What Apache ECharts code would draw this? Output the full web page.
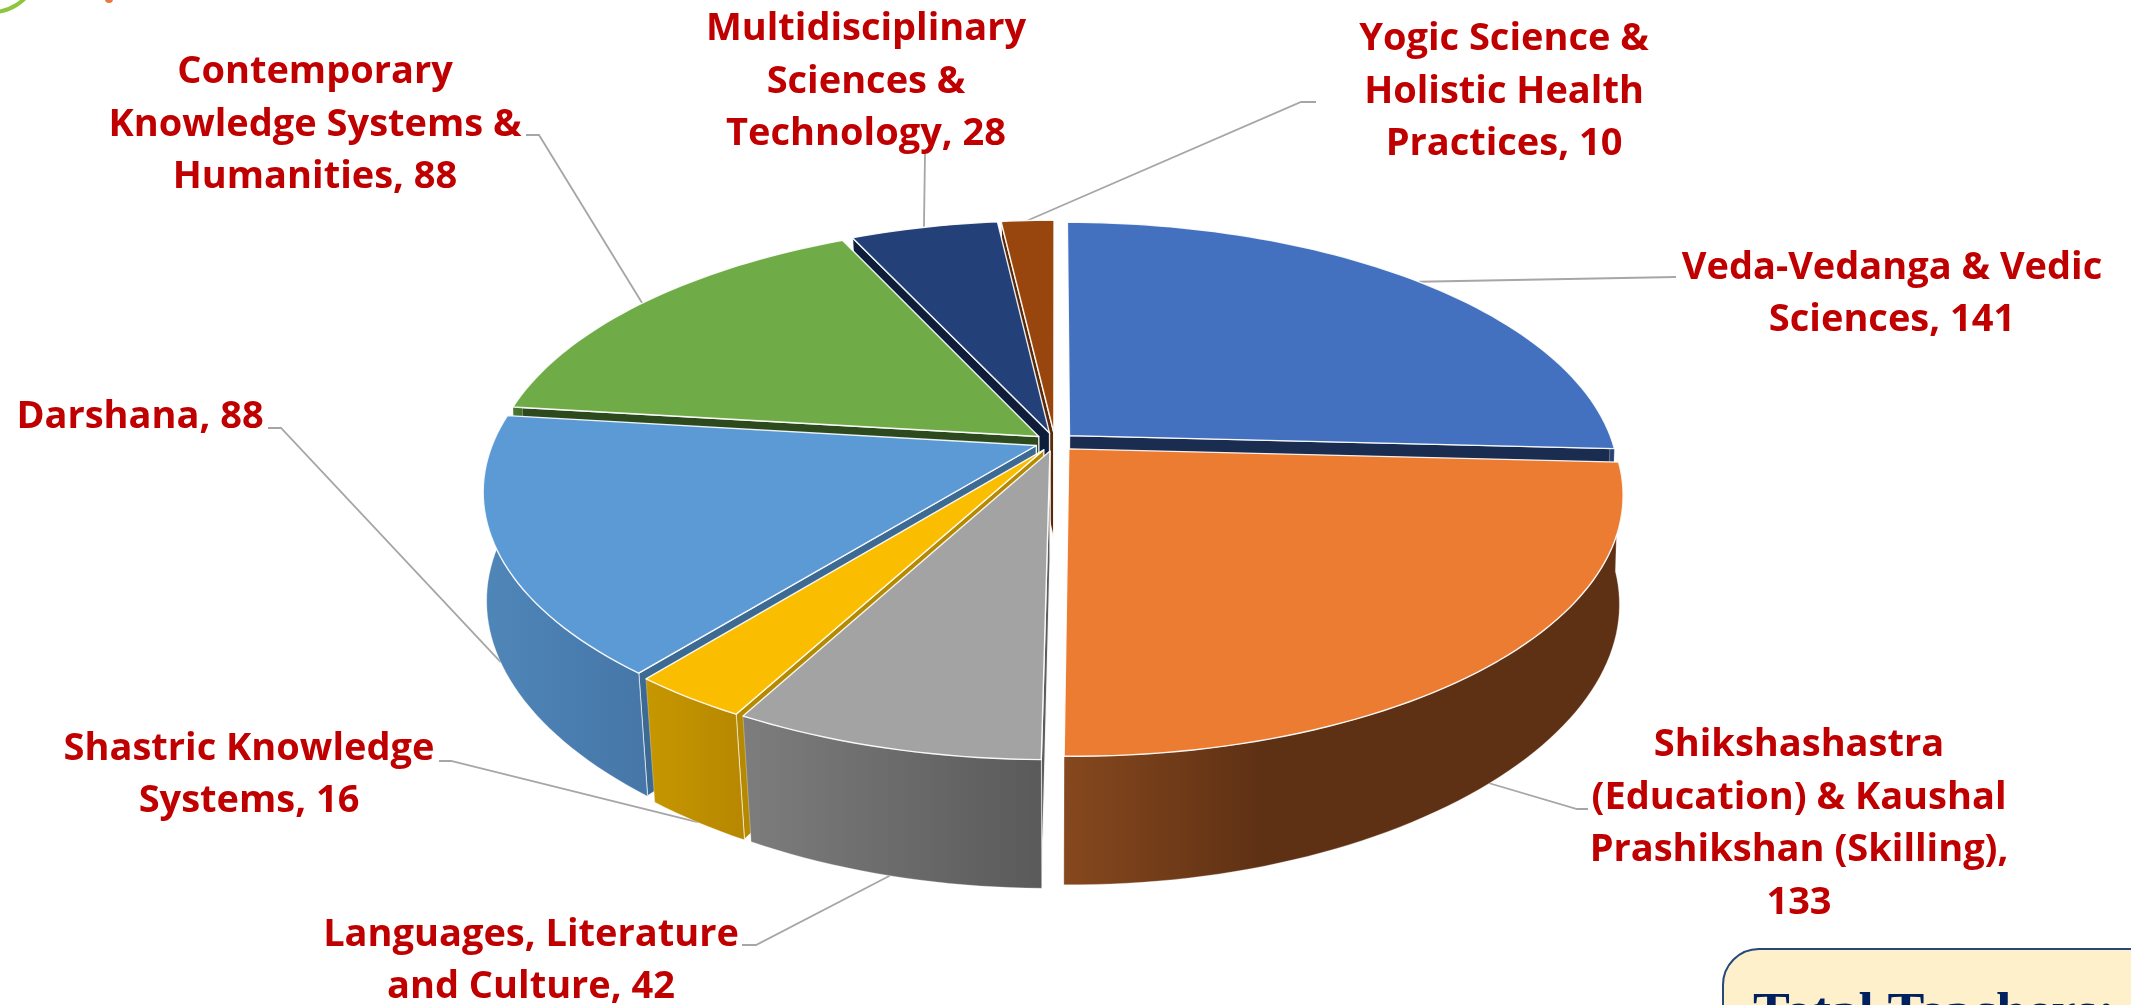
<!DOCTYPE html>
<html>
<head>
<meta charset="utf-8" />
<title>Teachers by discipline</title>
<script src="https://cdn.jsdelivr.net/npm/echarts@6/dist/echarts.min.js"></script>
<style>
  html, body { margin: 0; height: 100%; background: #fff; overflow: hidden; }
  #chart { width: 2131px; height: 1005px; }
</style>
</head>
<body>
<div id="chart"></div>
<script>
// values, clockwise from 12 o'clock
const categories = [
  "Veda-Vedanga & Vedic\nSciences",
  "Shikshashastra\n(Education) & Kaushal\nPrashikshan (Skilling)",
  "Languages, Literature\nand Culture",
  "Shastric Knowledge\nSystems",
  "Darshana",
  "Contemporary\nKnowledge Systems &\nHumanities",
  "Multidisciplinary\nSciences &\nTechnology",
  "Yogic Science &\nHolistic Health\nPractices",
];
const teachers = [141, 133, 42, 16, 88, 88, 28, 10];
const totalLabel = "Total Teachers: 546";

const topColors = ["#4371c0", "#eb7c31", "#a3a3a3", "#fbbd00", "#5b9ad5", "#6fab47", "#234178", "#98460d"];
const cutColors = ["#1a2c50", "#5f3114", "#5c5c5c", "#b58a00", "#3c6a93", "#2d4a1e", "#0e1d3a", "#5a2a08"];
const wallLeft = ["#2a4a80", "#86481e", "#7d7d7d", "#c79700", "#4f86b8", "#4b7a30", "#16294d", "#6a3209"];
const wallRight = ["#233e6c", "#5f3114", "#5a5a5a", "#b68700", "#4676a8", "#3f6a28", "#12233f", "#5a2a08"];

// painter's order, back of the pie first
const drawOrder = [0, 7, 6, 5, 4, 3, 2, 1];

// where each label sits: text centre, then the leader's elbow and end
const labelCenters = [
  [1892, 294], [1799, 824], [531, 961], [249, 775],
  [140, 417], [315, 125], [866, 82], [1504, 92],
];
const leaderEnds = [
  [[1676, 277]],
  [[1577, 809], [1588, 809]],
  [[756, 945], [742, 945]],
  [[451, 761], [439, 761]],
  [[281, 428], [268, 428]],
  [[539, 135], [526, 135]],
  [[925, 154]],
  [[1301, 102], [1316, 102]],
];

// pie projection
const cx = 1055, cy = 442;
const radiusX = 543, radiusY = 252, perspective = 0.172, explode = 0.037;
const bottomCy = 550, bottomScaleX = 0.968, bottomSideWiden = 0.025, bottomScaleY = 1.065;

const total = teachers.reduce((a, b) => a + b, 0);
const startAngles = [];
teachers.reduce((sum, v, i) => {
  startAngles[i] = (sum / total) * Math.PI * 2;
  return sum + v;
}, 0);

function sliceRange(i) {
  const a0 = startAngles[i];
  return [a0, a0 + (teachers[i] / total) * Math.PI * 2];
}

// disk point -> top face pixel
function topPoint(u, v) {
  const w = 1 - perspective * v;
  return [cx + (radiusX * u) / w, cy + (radiusY * v) / w];
}

// the lower face is narrower at the front than at the sides
function bottomPoint(u, v) {
  const p = topPoint(u, v);
  const sx = bottomScaleX + bottomSideWiden * u * u;
  return [cx + (p[0] - cx) * sx, bottomCy + (p[1] - cy) * bottomScaleY];
}

function sliceOffset(i) {
  const [a0, a1] = sliceRange(i);
  const mid = (a0 + a1) / 2;
  return [explode * Math.sin(mid), -explode * Math.cos(mid)];
}

function rim(i, angle, face) {
  const off = sliceOffset(i);
  return face(off[0] + Math.sin(angle), off[1] - Math.cos(angle));
}

function arcPoints(i, face, from, to) {
  const steps = Math.max(6, Math.ceil((to - from) * 40));
  const pts = [];
  for (let s = 0; s <= steps; s++) {
    pts.push(rim(i, from + ((to - from) * s) / steps, face));
  }
  return pts;
}

function renderSlice(params, api) {
  const i = api.value(0);
  const [a0, a1] = sliceRange(i);
  const mid = (a0 + a1) / 2;
  const off = sliceOffset(i);
  const topRim = arcPoints(i, topPoint, a0, a1);
  const topHub = topPoint(off[0], off[1]);
  const botHub = bottomPoint(off[0], off[1]);
  const edge = { stroke: "rgba(255,255,255,0.9)", lineWidth: 1.4, lineJoin: "round" };
  const poly = (points, fill, style) => ({
    type: "polygon",
    shape: { points },
    style: Object.assign({ fill }, edge, style),
  });
  const cutFace = (angle) =>
    poly([topHub, rim(i, angle, topPoint), rim(i, angle, bottomPoint), botHub], cutColors[i]);
  const children = [];
  // only the cut face turned towards the viewer is drawn
  if (mid > Math.PI) children.push(cutFace(a0));
  if (mid < Math.PI || a1 > Math.PI * 2 - 0.001) children.push(cutFace(a1));
  // the outer wall only shows on the front part of the rim
  const wallFrom = Math.max(a0, Math.PI / 2);
  const wallTo = Math.min(a1, (Math.PI * 280) / 180);
  if (wallTo > wallFrom) {
    // orange wall goes dark early, the others run evenly
    const stops = i === 1
      ? [{ offset: 0, color: wallLeft[i] }, { offset: 0.35, color: wallRight[i] }, { offset: 1, color: wallRight[i] }]
      : [{ offset: 0, color: wallLeft[i] }, { offset: 1, color: wallRight[i] }];
    const wallFill = new echarts.graphic.LinearGradient(0, 0, 1, 0, stops);
    const wallTop = arcPoints(i, topPoint, wallFrom, wallTo);
    const wallBot = arcPoints(i, bottomPoint, wallFrom, wallTo);
    children.push(poly(wallTop.concat(wallBot.reverse()), wallFill, { stroke: "rgba(255,255,255,0.5)", lineWidth: 0.6 }));
  }
  children.push(poly([topHub].concat(topRim), topColors[i]));
  return { type: "group", children };
}

function renderLeader(params, api) {
  const i = api.value(0);
  const [a0, a1] = sliceRange(i);
  const mid = (a0 + a1) / 2;
  // front slices anchor on the lower rim, back slices on the upper
  const front = Math.cos(mid) < 0;
  const anchor = rim(i, mid, front ? bottomPoint : topPoint);
  return {
    type: "polyline",
    shape: { points: [anchor].concat(leaderEnds[i]) },
    style: { stroke: "#a6a6a6", lineWidth: 1.8, fill: null },
  };
}

function renderLabel(params, api) {
  const i = api.value(0);
  // the Shikshashastra label wraps its value on to a line of its own
  const sep = i === 1 ? ",\n" : ", ";
  return {
    type: "text",
    x: labelCenters[i][0],
    y: labelCenters[i][1],
    style: {
      text: categories[i] + sep + teachers[i],
      fill: "#c00000",
      font: "700 38px 'Open Sans'",
      lineHeight: 52.5,
      align: "center",
      verticalAlign: "middle",
    },
  };
}

const chart = echarts.init(document.getElementById("chart"));

chart.setOption({
  backgroundColor: "#fff",
  animation: false,
  series: [
    {
      type: "custom",
      coordinateSystem: "none",
      silent: true,
      z: 1,
      data: categories.map((c, i) => [i]),
      renderItem: renderLeader,
    },
    {
      type: "custom",
      coordinateSystem: "none",
      silent: true,
      z: 2,
      data: drawOrder.map((i) => ({ name: categories[i], value: [i, teachers[i]] })),
      renderItem: renderSlice,
    },
    {
      type: "custom",
      coordinateSystem: "none",
      silent: true,
      z: 3,
      data: categories.map((c, i) => [i]),
      renderItem: renderLabel,
    },
  ],
  graphic: [
    // bits of the logo and the summary box that the crop cuts off
    {
      type: "arc",
      shape: { cx: -8, cy: -34, r: 46, startAngle: 0.25, endAngle: 1.75 },
      style: { stroke: "#8cc63f", lineWidth: 4, fill: null },
    },
    {
      type: "circle",
      shape: { cx: 109, cy: -1, r: 4 },
      style: { fill: "#e8793a" },
    },
    {
      type: "rect",
      shape: { x: 1723, y: 949, width: 460, height: 120, r: 36 },
      style: { fill: "#fff0cc", stroke: "#254a7a", lineWidth: 2 },
    },
    {
      type: "text",
      x: 1753,
      y: 989,
      scaleX: 1.105,
      style: {
        text: totalLabel,
        fill: "#002060",
        font: "700 50px 'Liberation Serif'",
        verticalAlign: "top",
      },
    },
  ],
});

window.addEventListener("resize", () => chart.resize());
</script>
</body>
</html>
